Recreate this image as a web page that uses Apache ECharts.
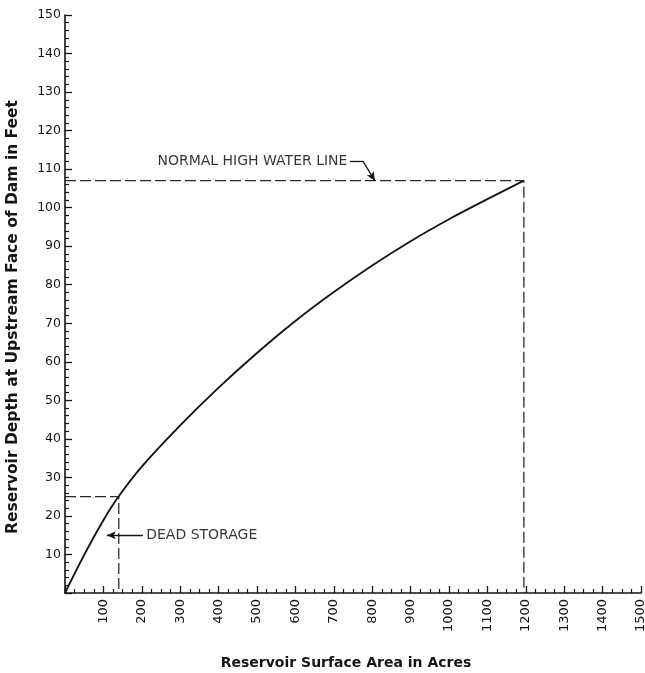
<!DOCTYPE html>
<html>
<head>
<meta charset="utf-8">
<script src="https://cdn.jsdelivr.net/npm/echarts@6/dist/echarts.min.js"></script>
<style>
html,body{margin:0;padding:0;background:#fff;}
#chart{width:645px;height:673px;}
</style>
</head>
<body>
<div id="chart"></div>
<script>
// Surface area (acres) and depth (feet)
const areaAcres = [0, 50, 100, 140, 200, 300, 400, 500, 600, 700, 800, 900, 1000, 1100, 1195];
const depthFeet = [0, 9.9, 18.9, 25.1, 32.8, 43.5, 53.3, 62.3, 70.6, 78.1, 85.0, 91.3, 97.0, 102.2, 107];

// Reference levels
const deadStorage = { area: 140, depth: 25 };
const highWater = { area: 1195, depth: 107 };

// Annotation anchor points (data coordinates)
const highWaterLabel = [742, 112];
const highWaterLeader = [[742, 112], [776, 112], [807, 107]];
const deadStorageLabel = [205, 15];
const deadStorageArrow = [[203, 15], [109, 15]];

const xAxisRange = [0, 1500];
const yAxisRange = [0, 150];

const ink = '#151515';
const font = 'DejaVu Sans';

const curve = areaAcres.map((a, i) => [a, depthFeet[i]]);

const chart = echarts.init(document.getElementById('chart'));
const dashed = { color: '#2a2a2a', width: 1.3, type: [11, 4] };

chart.setOption({
  backgroundColor: '#ffffff',
  animation: false,
  grid: { left: 65, right: 4, top: 15, bottom: 80, outerBoundsMode: 'none', containLabel: false },
  xAxis: {
    type: 'value',
    min: xAxisRange[0], max: xAxisRange[1], interval: 100,
    name: 'Reservoir Surface Area in Acres',
    nameLocation: 'middle',
    nameGap: 63,
    nameMoveOverlap: false,
    nameTextStyle: { fontFamily: font, fontWeight: 'bold', fontSize: 14, color: ink, padding: [0, 14, 0, 0] },
    axisLine: { lineStyle: { color: ink, width: 1.6 } },
    axisTick: { inside: true, length: 7, lineStyle: { color: ink, width: 1.3 } },
    minorTick: { show: true, splitNumber: 4, length: 4, lineStyle: { color: ink, width: 1.2 } },
    splitLine: { show: false },
    axisLabel: { rotate: 90, margin: 6, fontFamily: font, fontSize: 13, color: ink, showMinLabel: false,
      formatter: v => v === 0 ? '' : String(v) }
  },
  yAxis: {
    type: 'value',
    min: yAxisRange[0], max: yAxisRange[1], interval: 10,
    name: 'Reservoir Depth at Upstream Face of Dam in Feet',
    nameLocation: 'middle',
    nameGap: 44,
    nameTextStyle: { fontFamily: font, fontWeight: 'bold', fontSize: 15.5, color: ink, padding: [0, 26, 0, 0] },
    axisLine: { show: true, lineStyle: { color: ink, width: 1.6 } },
    axisTick: { show: true, inside: true, length: 7, lineStyle: { color: ink, width: 1.3 } },
    minorTick: { show: true, splitNumber: 5, length: 4, lineStyle: { color: ink, width: 1.2 } },
    splitLine: { show: false },
    axisLabel: { margin: 4, fontFamily: font, fontSize: 12.5, color: ink, showMinLabel: false,
      formatter: v => v === 0 ? '' : String(v) }
  },
  series: [
    {
      name: 'Depth vs Area',
      type: 'line',
      data: curve,
      smooth: 0.3,
      symbol: 'none',
      lineStyle: { color: ink, width: 1.9 },
      z: 5
    },
    {
      name: 'Dead storage level',
      type: 'line',
      data: [[0, deadStorage.depth], [deadStorage.area, deadStorage.depth], [deadStorage.area, 0]],
      symbol: 'none',
      lineStyle: dashed
    },
    {
      name: 'Normal high water line',
      type: 'line',
      data: [[0, highWater.depth], [highWater.area, highWater.depth], [highWater.area, 0]],
      symbol: 'none',
      lineStyle: dashed,
      markLine: {
        silent: true,
        symbol: ['none', 'none'],
        label: { show: false },
        lineStyle: { color: ink, width: 1.3, type: 'solid' },
        data: [
          [{ coord: highWaterLeader[0], symbol: 'none' }, { coord: highWaterLeader[1], symbol: 'none' }],
          [{ coord: highWaterLeader[1], symbol: 'none' }, { coord: highWaterLeader[2], symbol: 'arrow', symbolSize: [6, 9] }],
          [{ coord: deadStorageArrow[0], symbol: 'none' }, { coord: deadStorageArrow[1], symbol: 'arrow', symbolSize: [6, 9] }]
        ]
      }
    },
    {
      name: 'Labels',
      type: 'scatter',
      symbolSize: 1,
      itemStyle: { color: 'rgba(0,0,0,0)' },
      data: [
        { value: highWaterLabel, name: 'NORMAL HIGH WATER LINE', label: { align: 'right', position: 'left', distance: 2 } },
        { value: deadStorageLabel, name: 'DEAD STORAGE', label: { align: 'left', position: 'right', distance: 2 } }
      ],
      label: {
        show: true,
        verticalAlign: 'middle',
        formatter: p => p.name,
        fontFamily: font,
        fontSize: 14,
        color: '#000'
      }
    }
  ]
});
</script>
</body>
</html>
